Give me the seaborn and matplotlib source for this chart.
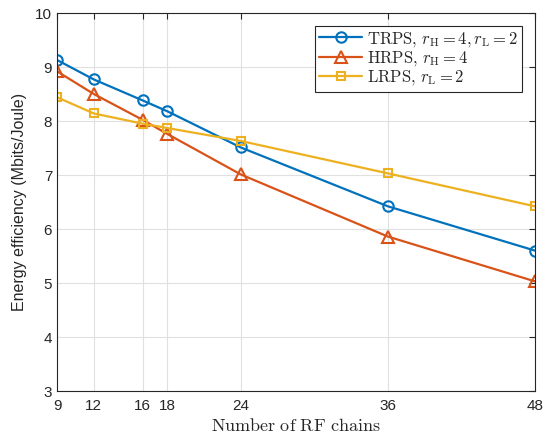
import numpy as np
import pandas as pd
import matplotlib
matplotlib.use("Agg")
import matplotlib.pyplot as plt
import seaborn as sns

rf_chains = [9, 12, 16, 18, 24, 36, 48]
trps = [9.13, 8.77, 8.38, 8.18, 7.51, 6.42, 5.60]
hrps = [8.92, 8.50, 8.02, 7.76, 7.01, 5.86, 5.03]
lrps = [8.44, 8.14, 7.95, 7.87, 7.63, 7.03, 6.42]
labels = [r"$\mathrm{TRPS},\, r_{\mathrm{H}}=4, r_{\mathrm{L}}=2$",
          r"$\mathrm{HRPS},\, r_{\mathrm{H}}=4$",
          r"$\mathrm{LRPS},\, r_{\mathrm{L}}=2$"]
yticks = [3, 4, 5, 6, 7, 8, 9, 10]

sns.set_style("white")
plt.rcParams["font.family"] = ["Liberation Sans", "DejaVu Sans"]
plt.rcParams["mathtext.fontset"] = "cm"

df = pd.DataFrame({
    "x": rf_chains * 3,
    "y": trps + hrps + lrps,
    "scheme": [labels[0]] * 7 + [labels[1]] * 7 + [labels[2]] * 7,
})

colors = ["#0072BD", "#D95319", "#EDB120"]
markers = ["o", "^", "s"]
sizes = [7.5, 8, 6]

fig = plt.figure(figsize=(5.45, 4.38), dpi=100)
ax = fig.add_axes([0.1046, 0.1073, 0.877, 0.863])

for i, lab in enumerate(labels):
    sub = df[df["scheme"] == lab]
    sns.lineplot(data=sub, x="x", y="y", ax=ax, color=colors[i], marker=markers[i],
                 markersize=sizes[i], markerfacecolor="none", markeredgecolor=colors[i],
                 markeredgewidth=1.5, linewidth=1.6, label=lab)

ax.set_xlim(9, 48)
ax.set_ylim(3, 10)
ax.set_xticks(rf_chains)
ax.set_xticklabels([str(v) for v in rf_chains])
ax.set_yticks(yticks)
ax.set_yticklabels([str(v) for v in yticks])
ax.grid(True, color="#E0E0E0", linewidth=0.8)
ax.tick_params(direction="in", length=4, labelsize=11, color="#262626", labelcolor="#262626",
               top=True, right=True)
ax.tick_params(axis="x", pad=6)
for s in ax.spines.values():
    s.set_color("#262626")
    s.set_linewidth(0.8)
ax.set_xlabel(r"$\mathrm{Number\ of\ RF\ chains}$", fontsize=13, color="#262626", labelpad=3)
ax.set_ylabel("Energy efficiency (Mbits/Joule)", fontsize=11.5, color="#262626", labelpad=6)

leg = ax.legend(loc="upper right", fontsize=12, frameon=True, fancybox=False,
                edgecolor="#262626", framealpha=1, borderpad=0.25, labelspacing=0.02,
                handlelength=2.6, handletextpad=0.3, borderaxespad=0.75)
leg.get_frame().set_linewidth(0.8)

fig.savefig("out.png", dpi=100)
